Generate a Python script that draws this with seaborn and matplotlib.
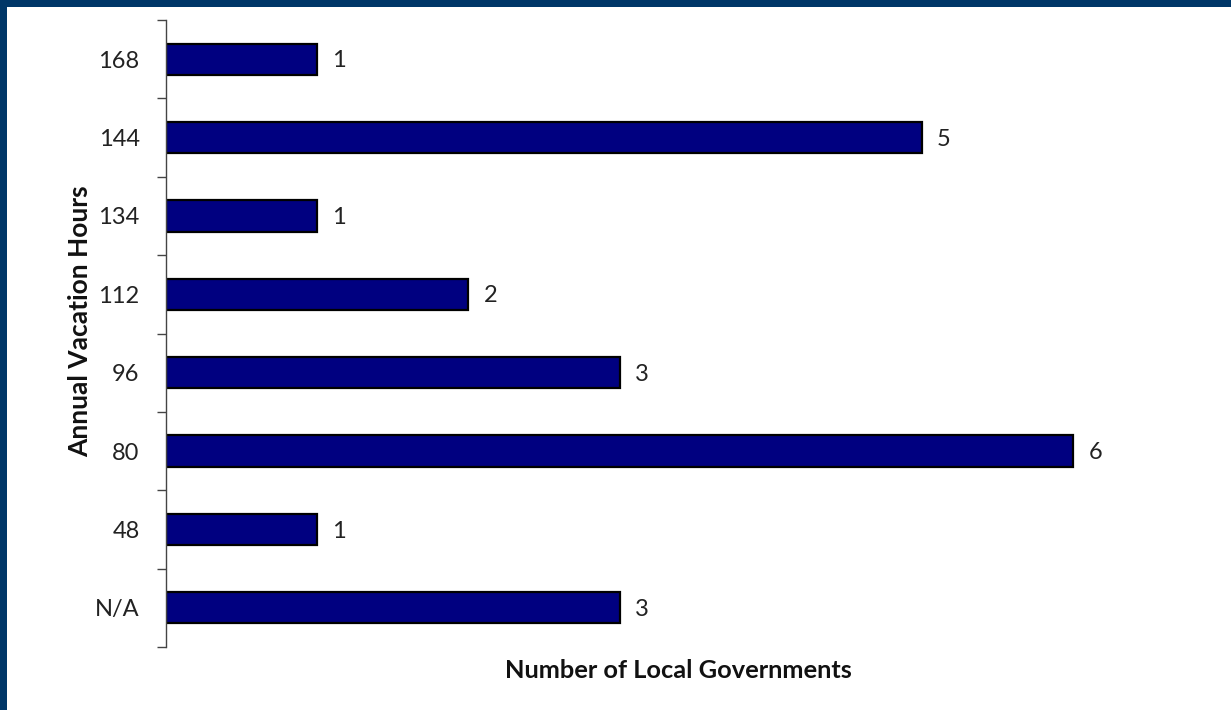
import matplotlib
matplotlib.use("Agg")
import matplotlib.pyplot as plt
import matplotlib.patches as mpatches
import seaborn as sns
import pandas as pd
import numpy as np

# Annual vacation hours offered and how many local governments offer each
hours = ["168", "144", "134", "112", "96", "80", "48", "N/A"]
counts = [1, 5, 1, 2, 3, 6, 1, 3]

df = pd.DataFrame({"hours": hours, "count": counts})

sns.set_theme(style="white")
plt.rcParams["font.family"] = ["Lato", "DejaVu Sans"]

fig = plt.figure(figsize=(12.31, 7.10), dpi=100)
fig.patch.set_facecolor("white")

# dark blue frame along the top and left edges
fig.add_artist(mpatches.Rectangle((0, 0), 7 / 1231, 1, transform=fig.transFigure,
                                  facecolor="#003768", edgecolor="none", zorder=10))
fig.add_artist(mpatches.Rectangle((0, 1 - 7 / 710), 1, 7 / 710, transform=fig.transFigure,
                                  facecolor="#003768", edgecolor="none", zorder=10))

left = 166 / 1231
right = (166 + 7 * 151.2) / 1231
bottom = 1 - 647 / 710
top = 1 - 20 / 710
ax = fig.add_axes([left, bottom, right - left, top - bottom])

sns.barplot(data=df, x="count", y="hours", order=hours, orient="h",
            color="#000080", saturation=1, width=0.4,
            edgecolor="black", linewidth=1.6, ax=ax)

ax.set_xlim(0, 7)
ax.set_ylim(len(hours) - 0.5, -0.5)

# value labels at the end of each bar
for i, v in enumerate(counts):
    ax.text(v + 0.1, i + 0.02, str(v), va="center", ha="left", fontsize=17, color="#222222")

sns.despine(ax=ax, left=False, bottom=True, top=True, right=True)
ax.spines["left"].set_color("#444444")
ax.spines["left"].set_linewidth(1.0)

ax.set_xticks([])
ax.set_yticks(range(len(hours)))
ax.set_yticklabels(hours, fontsize=17, color="#222222")
ax.tick_params(axis="y", which="major", length=0, pad=19)
ax.set_yticks(np.arange(-0.5, len(hours), 1.0), minor=True)
ax.tick_params(axis="y", which="minor", length=6.5, width=1.0, color="#444444",
               direction="out", left=True)

ax.set_xlabel("")
ax.set_ylabel("")
fig.text(678 / 1231, 1 - 670 / 710, "Number of Local Governments", ha="center", va="center",
         fontsize=18.3, fontweight="bold", color="#111111")
fig.text(80 / 1231, 1 - 321 / 710, "Annual Vacation Hours", ha="center", va="center",
         rotation=90, fontsize=19, fontweight="bold", color="#111111")

fig.savefig("out.png", dpi=100, facecolor="white")
